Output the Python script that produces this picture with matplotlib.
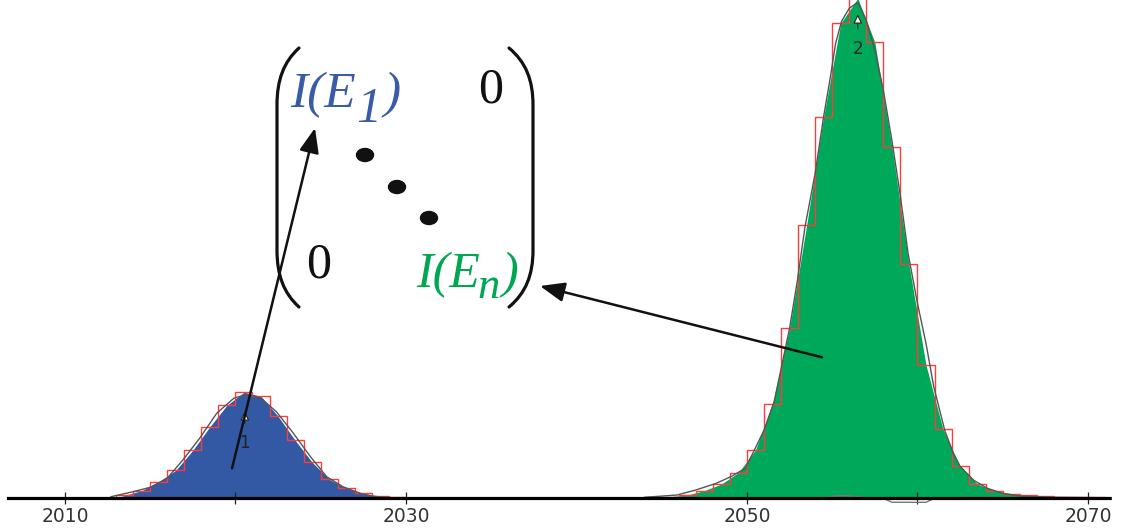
import matplotlib
matplotlib.use('Agg')
import numpy as np
import matplotlib.pyplot as plt
from matplotlib.patches import Ellipse, PathPatch, Rectangle
from matplotlib.path import Path

W, H = 1125, 529

# peak 1 (blue): histogram bin edges and counts
blue_edges = list(range(2013, 2031))
blue_counts = [3, 7.6, 16.6, 28, 48, 71.6, 93, 106, 102, 82, 58, 36, 19, 10, 5, 2.3, 1.3]

# peak 2 (green)
green_edges = list(range(2044, 2072))
green_counts = [1.7, 1.7, 3.3, 7.7, 14.3, 25.7, 48.3, 94.3, 170, 273, 381.6, 475, 500,
                456, 351.6, 234, 133.3, 69, 32, 14.3, 7.7, 4.3, 3.3, 2, 1, 1, 1]

# fitted curves
blue_fit_x = [2012.7, 2014.0, 2015.0, 2016.0, 2016.9, 2017.9, 2018.9, 2019.9, 2020.65,
              2021.5, 2022.4, 2023.4, 2024.4, 2025.35, 2026.3, 2027.3, 2028.1, 2029.5]
blue_fit_y = [1.6, 6.6, 11, 20, 38, 60, 85, 100, 104, 100, 86.6, 65, 41.6, 21.6, 11.6, 5, 1.6, 0.3]

green_fit_x = [2044.0, 2045.9, 2047.0, 2048.2, 2049.1, 2049.9, 2050.4, 2051.0, 2051.6,
               2052.5, 2052.95, 2053.4, 2054.0, 2054.5, 2054.9, 2055.2, 2055.55, 2056.0,
               2056.5, 2057.0, 2057.5, 2058.0, 2058.5, 2059.0, 2059.45, 2060.0, 2060.5,
               2060.95, 2061.6, 2062.1, 2062.5, 2063.3, 2064.1, 2065.0, 2066.0, 2068.0, 2071.4]
green_fit_y = [1, 3.3, 8.3, 15, 22, 30, 47, 68, 97, 170, 217, 271, 325, 382, 422, 455, 477,
               490, 496, 478, 448, 408, 358, 302, 245, 195, 155, 112, 68, 45, 32, 18, 10, 5,
               2.3, 1, 0.5]

# residual near the baseline
resid_x = [2044, 2054.5, 2055.2, 2056.0, 2057.0, 2058.0, 2058.5, 2060.5, 2061.0, 2063, 2066, 2071.4]
resid_y = [0, 0, 2.5, 2.5, 0.5, 0, -4, -4, 0, 1, 0.5, 0]

tick_major = [2010, 2030, 2050, 2070]
tick_minor = [2020, 2060]

BLUE = '#3359a5'
GREEN = '#00a859'
RED = '#ff3c3c'
FIT = '#555555'
INK = '#111111'

fig = plt.figure(figsize=(W / 100, H / 100), dpi=100)
ax = fig.add_axes([8 / W, (H - 508) / H, (1112 - 8) / W, 508 / H])
ax.set_xlim(2006.66, 2071.41)
ax.set_ylim(-9.7, 498.3)


def centers_fill(edges, counts):
    xs = [edges[0]] + [(edges[i] + edges[i + 1]) / 2 for i in range(len(counts))] + [edges[-1]]
    ys = [0] + list(counts) + [0]
    return xs, ys


bx, by = centers_fill(blue_edges, blue_counts)
gx, gy = centers_fill(green_edges, green_counts)
ax.fill_between(bx, by, 0, color=BLUE, lw=0, zorder=1)
ax.fill_between(gx, gy, 0, color=GREEN, lw=0, zorder=1)

ax.stairs(blue_counts, blue_edges, color=RED, lw=1, zorder=2)
ax.stairs(green_counts, green_edges, color=RED, lw=1, zorder=2)

ax.plot(blue_fit_x, blue_fit_y, color=FIT, lw=1, zorder=3)
ax.plot(green_fit_x, green_fit_y, color=FIT, lw=1, zorder=3)
ax.plot(resid_x, resid_y, color='#777777', lw=1, zorder=3)

# axis: only a thick baseline
for s in ['top', 'left', 'right']:
    ax.spines[s].set_visible(False)
ax.spines['bottom'].set_position(('data', 0))
ax.spines['bottom'].set_linewidth(2.3)
ax.spines['bottom'].set_zorder(4)
ax.set_yticks([])
ax.set_xticks(tick_major)
ax.set_xticks(tick_minor, minor=True)
ax.tick_params(axis='x', which='both', direction='inout', length=8, width=0.9,
               color='#222222', labelsize=13.5, labelcolor='#333333', pad=2)
for lab in ax.get_xticklabels():
    lab.set_family(['Liberation Sans Narrow', 'DejaVu Sans'])
ax.patch.set_alpha(0)

# peak markers
for x0, y_txt, y_tip, lab in [(2020.55, 55, 87, '1'), (2056.5, 449, 484, '2')]:
    ax.annotate(lab, xy=(x0, y_tip), xytext=(x0, y_txt), ha='center', va='center',
                fontsize=12, color='#222222', zorder=5,
                family=['Liberation Sans Narrow', 'DejaVu Sans'],
                arrowprops=dict(arrowstyle='-|>,head_length=0.45,head_width=0.22',
                                ec='#222222', fc='white', lw=0.8, shrinkA=6, shrinkB=0))


def px(x, y):
    return (x / W, 1 - y / H)


# matrix brackets
def bracket(x_end, x_side):
    top, bot = 48, 307
    verts = [px(x_end, top), px(x_end + (x_side - x_end) * 0.7, top + 14),
             px(x_side, top + 32), px(x_side, top + 57),
             px(x_side, bot - 57),
             px(x_side, bot - 32), px(x_end + (x_side - x_end) * 0.7, bot - 14), px(x_end, bot)]
    codes = [Path.MOVETO, Path.CURVE4, Path.CURVE4, Path.CURVE4,
             Path.LINETO, Path.CURVE4, Path.CURVE4, Path.CURVE4]
    fig.add_artist(PathPatch(Path(verts, codes), transform=fig.transFigure,
                             fc='none', ec=INK, lw=2.3, capstyle='round'))


bracket(299, 277)
bracket(509, 533)

renderer = fig.canvas.get_renderer()


def rich(x, y, parts, color):
    # parts: (text, fontsize, vertical drop in px, extra gap in px)
    for s, size, drop, gap in parts:
        x += gap
        t = fig.text(*px(x, y + drop), s, color=color, fontsize=size,
                     family='Liberation Serif', style='italic', ha='left', va='baseline')
        x = t.get_window_extent(renderer).x1


rich(290, 107, [('I(E', 37, 0, 0), ('1', 36, 15, 1), (')', 37, 0, 2)], '#3a5ba8')
rich(416, 287, [('I(E', 36, 0, 0), ('n', 32, 11, -2), (')', 36, 0, 1)], '#00a651')

fig.text(*px(491, 102), '0', family='Liberation Serif', fontsize=36,
         ha='center', va='baseline', color=INK)
fig.text(*px(319, 278), '0', family='Liberation Serif', fontsize=36,
         ha='center', va='baseline', color=INK)

for cx, cy in [(365, 155), (397, 187), (429, 218)]:
    fig.add_artist(Ellipse(px(cx, cy), 17 / W, 13 / H, transform=fig.transFigure,
                           color=INK))

# arrows from the peaks to the matrix entries
for tip, start in [((315, H - 128), (2019.8, 30)), ((540, H - 286), (2054.4, 141))]:
    ax.annotate('', xy=tip, xycoords='figure pixels', xytext=start, textcoords='data',
                arrowprops=dict(arrowstyle='-|>,head_length=0.6,head_width=0.24',
                                mutation_scale=25, color=INK, lw=1.8,
                                shrinkA=0, shrinkB=0), zorder=6)

# image is cut off at the right edge
fig.add_artist(Rectangle((1112 / W, 0), 1 - 1112 / W, 1, transform=fig.transFigure,
                         color='white', zorder=20))

fig.savefig('out.png', dpi=100)
